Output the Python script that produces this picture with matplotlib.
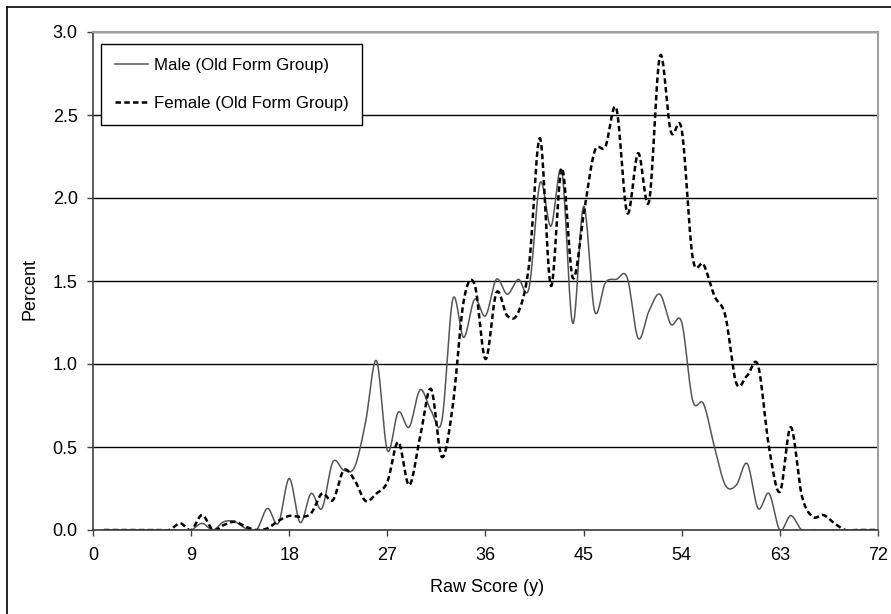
import numpy as np
import matplotlib
matplotlib.use("Agg")
import matplotlib.pyplot as plt
from matplotlib.lines import Line2D

plt.rcParams['font.family'] = ['Liberation Sans', 'DejaVu Sans']

# raw scores 1..72
scores = list(range(1, 73))

male = [0, 0, 0, 0, 0, 0, 0, 0, 0, 0.04,
        0, 0.05, 0.05, 0.01, 0, 0.13, 0.04, 0.31, 0.045, 0.22,
        0.13, 0.41, 0.36, 0.38, 0.65, 1.02, 0.48, 0.71, 0.62, 0.845,
        0.72, 0.66, 1.39, 1.16, 1.39, 1.29, 1.51, 1.42, 1.51, 1.46,
        2.09, 1.83, 2.16, 1.245, 1.95, 1.32, 1.49, 1.51, 1.52, 1.155,
        1.32, 1.42, 1.24, 1.25, 0.78, 0.76, 0.50, 0.27, 0.27, 0.40,
        0.13, 0.22, 0.0, 0.087, 0, 0, 0, 0, 0, 0,
        0, 0]

female = [0, 0, 0, 0, 0, 0, 0, 0.04, 0, 0.09,
          0, 0.03, 0.05, 0.02, 0, 0.01, 0.055, 0.085, 0.08, 0.10,
          0.22, 0.18, 0.36, 0.30, 0.175, 0.22, 0.29, 0.53, 0.27, 0.56,
          0.85, 0.44, 0.75, 1.38, 1.48, 1.03, 1.43, 1.29, 1.31, 1.6,
          2.36, 1.47, 2.18, 1.52, 1.9, 2.28, 2.31, 2.54, 1.91, 2.27,
          1.98, 2.855, 2.40, 2.41, 1.64, 1.60, 1.41, 1.29, 0.885, 0.93,
          0.99, 0.5, 0.23, 0.62, 0.21, 0.08, 0.09, 0.04, 0, 0,
          0, 0]

xticks = [0, 9, 18, 27, 36, 45, 54, 63, 72]
yticks = [0.0, 0.5, 1.0, 1.5, 2.0, 2.5, 3.0]


def smooth(x, y, n=24):
    # excel style smoothed line (bezier through every point)
    x = np.asarray(x, float)
    y = np.asarray(y, float)
    px = np.concatenate([[x[0]], x, [x[-1]]])
    py = np.concatenate([[y[0]], y, [y[-1]]])
    t = np.linspace(0, 1, n)[:, None]
    xs, ys = [], []
    for i in range(1, len(px) - 2):
        p0 = np.array([px[i - 1], py[i - 1]])
        p1 = np.array([px[i], py[i]])
        p2 = np.array([px[i + 1], py[i + 1]])
        p3 = np.array([px[i + 2], py[i + 2]])
        c1 = p1 + (p2 - p0) / 6
        c2 = p2 - (p3 - p1) / 6
        b = ((1 - t) ** 3) * p1 + 3 * ((1 - t) ** 2) * t * c1 + 3 * (1 - t) * t ** 2 * c2 + t ** 3 * p2
        xs.append(b[:, 0])
        ys.append(b[:, 1])
    return np.concatenate(xs), np.concatenate(ys)


fig = plt.figure(figsize=(8.91, 6.14), dpi=100)
ax = fig.add_axes([93 / 891, 84 / 614, 785 / 891, 498 / 614])

mx, my = smooth(scores, male)
fx, fy = smooth(scores, female)
ax.plot(mx, my, color='#555555', lw=1.1, label='Male (Old Form Group)')
ax.plot(fx, fy, color='black', lw=1.8, linestyle=(0, (2.2, 1.3)),
        label='Female (Old Form Group)')

ax.set_xlim(0, 72)
ax.set_ylim(0, 3.0)
ax.set_xticks(xticks)
ax.set_yticks(yticks)
ax.set_yticklabels(['%.1f' % v for v in yticks])
ax.tick_params(direction='out', length=4, width=1, color='#404040',
               labelsize=13, labelcolor='black')
ax.tick_params(axis='x', pad=8)
ax.tick_params(axis='y', pad=7)

ax.set_axisbelow(True)
ax.yaxis.grid(True, color='black', lw=1)
for s in ['left', 'bottom']:
    ax.spines[s].set_color('#404040')
    ax.spines[s].set_linewidth(1.2)
for s in ['top', 'right']:
    ax.spines[s].set_color('#a0a0a0')
    ax.spines[s].set_linewidth(1.5)

fig.text(30 / 891, 1 - 289 / 614, 'Percent', rotation=90, ha='center', va='center', fontsize=13)
fig.text(487 / 891, 1 - 588 / 614, 'Raw Score (y)', ha='center', va='center', fontsize=13)

leg = ax.legend(loc='upper left', bbox_to_anchor=(8 / 785, 486 / 498), borderaxespad=0,
                fontsize=12.2, frameon=True, fancybox=False, handlelength=2.0,
                handletextpad=0.3, labelspacing=1.4, borderpad=0.8)
leg.get_frame().set_edgecolor('black')
leg.get_frame().set_linewidth(1)
leg.get_frame().set_alpha(1)

# outer chart border (only left and top show)
fig.add_artist(Line2D([7 / 891, 7 / 891], [0, 1 - 7 / 614], color='black', lw=1.2))
fig.add_artist(Line2D([7 / 891, 1], [1 - 7 / 614, 1 - 7 / 614], color='black', lw=1.2))

fig.savefig('out.png', dpi=100)
